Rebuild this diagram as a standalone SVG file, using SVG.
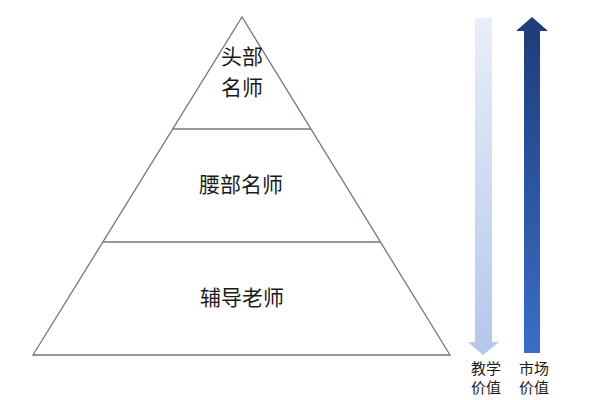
<svg xmlns="http://www.w3.org/2000/svg" width="600" height="400" viewBox="0 0 600 400">
  <defs>
    <linearGradient id="gLight" x1="0" y1="0" x2="0" y2="1">
      <stop offset="0" stop-color="#e9eef8"/>
      <stop offset="1" stop-color="#b3c7ec"/>
    </linearGradient>
    <linearGradient id="gDark" x1="0" y1="0" x2="0" y2="1">
      <stop offset="0" stop-color="#1d3c78"/>
      <stop offset="1" stop-color="#3c6dc6"/>
    </linearGradient>
    <style>
      .edge { fill: none; stroke: #6b7886; stroke-width: 1.3; }
      .lbl { font-family: "Noto Sans CJK SC", "Noto Sans", sans-serif; fill: #1a1a1a; text-anchor: middle; }
      .big { font-size: 21px; }
      .small { font-size: 15px; }
    </style>
  </defs>
  <rect width="600" height="400" fill="#ffffff"/>

  <g id="connectors">
    <polygon class="edge" points="242,17 450,355 33,355"/>
    <line class="edge" x1="173" y1="129" x2="311" y2="129"/>
    <line class="edge" x1="103" y1="242" x2="380" y2="242"/>
  </g>

  <g id="node-top">
    <text class="lbl big" x="242" y="64">头部</text>
    <text class="lbl big" x="242" y="95">名师</text>
  </g>
  <g id="node-middle">
    <text class="lbl big" x="241" y="192">腰部名师</text>
  </g>
  <g id="node-bottom">
    <text class="lbl big" x="242" y="305">辅导老师</text>
  </g>

  <g id="arrow-teaching">
    <polygon fill="url(#gLight)" points="475,18 492,18 492,342 499,342 483,355 468,342 475,342"/>
    <text class="lbl small" x="486" y="374">教学</text>
    <text class="lbl small" x="486" y="393">价值</text>
  </g>
  <g id="arrow-market">
    <polygon fill="url(#gDark)" points="532,17 548,31 540,31 540,353 524,353 524,31 516,31"/>
    <text class="lbl small" x="534" y="374">市场</text>
    <text class="lbl small" x="534" y="393">价值</text>
  </g>
</svg>
